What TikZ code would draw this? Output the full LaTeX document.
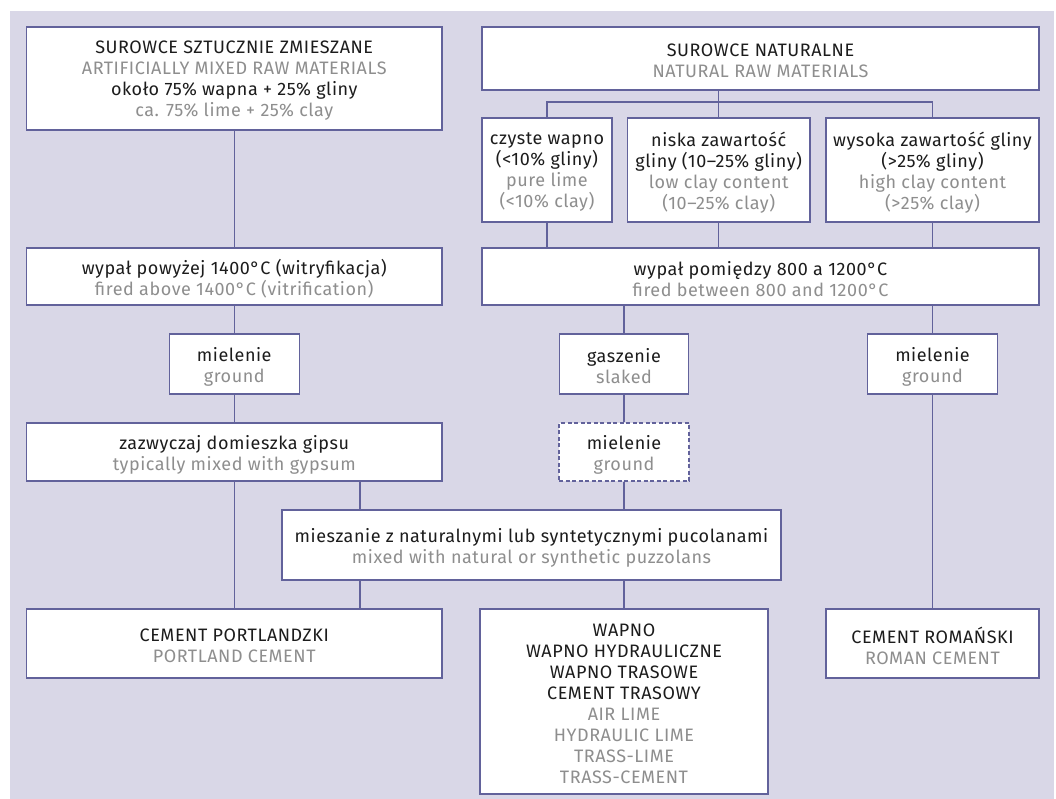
\documentclass[tikz,border=0pt]{standalone}
\usepackage{fontspec}
\setmainfont{Fira Sans}[LetterSpace=3]
\definecolor{bg}{HTML}{D9D7E7}
\definecolor{edge}{HTML}{62629B}
\definecolor{ink}{HTML}{1C1C1C}
\definecolor{pale}{HTML}{8E8E8E}
\newcommand\boxfont{\fontsize{18}{21}\selectfont}
\newcommand\en[1]{\textcolor{pale}{#1}}
% box: style, name, cx, cy, width, height, text
\newcommand\bx[7][box]{%
  \node[#1, minimum width=#5, minimum height=#6] (#2) at (#3,#4) {};
  \node[txt] (#2t) at ([yshift=-2.5pt]#2.center) {#7};}
\begin{document}
\begin{tikzpicture}[x=1pt,y=-1pt,
  box/.style={draw=edge, line width=1.4pt, fill=white, inner sep=0pt},
  dbox/.style={box, dash pattern=on 4pt off 2.5pt},
  txt/.style={inner sep=0pt, align=center, font=\boxfont, text=ink},
  link/.style={draw=edge, line width=1.4pt}]
\useasboundingbox (0,0) rectangle (1056,799);
\fill[bg] (10,11) rectangle (1054,799);

% columns
\coordinate (c360) at (360,0);
\coordinate (br) at (0,102);

% left column
\bx{s1}{234.25}{78.5}{415.5}{103}
  {SUROWCE SZTUCZNIE ZMIESZANE\\\en{ARTIFICIALLY MIXED RAW MATERIALS}\\około 75\% wapna + 25\% gliny\\\en{ca. 75\% lime + 25\% clay}}
\bx{f1}{234.25}{276.5}{415.5}{57}
  {wypał powyżej 1400°C (witryfikacja)\\\en{fired above 1400°C (vitrification)}}
\bx{m1}{234.25}{364}{130}{60}
  {mielenie\\\en{ground}}
\bx{z}{234.25}{452}{415.5}{58}
  {zazwyczaj domieszka gipsu\\\en{typically mixed with gypsum}}
\bx{pc}{234.25}{643.5}{415.5}{69}
  {CEMENT PORTLANDZKI\\\en{PORTLAND CEMENT}}

% right column
\bx{s2}{760.5}{58.5}{557}{63}
  {SUROWCE NATURALNE\\\en{NATURAL RAW MATERIALS}}
\bx{a}{547}{170}{130}{104}
  {czyste wapno\\(<10\% gliny)\\\en{pure lime}\\\en{(<10\% clay)}}
\bx{b}{718.75}{170}{182.5}{104}
  {niska zawartość\\gliny (10–25\% gliny)\\\en{low clay content}\\\en{(10–25\% clay)}}
\bx{c}{932.5}{170}{213}{104}
  {wysoka zawartość gliny\\(>25\% gliny)\\\en{high clay content}\\\en{(>25\% clay)}}
\bx{f2}{760.5}{276.5}{557}{57}
  {wypał pomiędzy 800 a 1200°C\\\en{fired between 800 and 1200°C}}
\bx{gs}{624}{364}{129}{60}
  {gaszenie\\\en{slaked}}
\bx{m3}{932.5}{364}{130}{60}
  {mielenie\\\en{ground}}
\bx[dbox]{d}{624}{452}{130}{58}
  {mielenie\\\en{ground}}
\bx{mx}{531.5}{545}{499}{70}
  {mieszanie z naturalnymi lub syntetycznymi pucolanami\\\en{mixed with natural or synthetic puzzolans}}
\bx{wp}{624}{701.5}{288}{185}
  {WAPNO\\WAPNO HYDRAULICZNE\\WAPNO TRASOWE\\CEMENT TRASOWY\\\en{AIR LIME}\\\en{HYDRAULIC LIME}\\\en{TRASS-LIME}\\\en{TRASS-CEMENT}}
\bx{rc}{932.5}{643.5}{213}{69}
  {CEMENT ROMAŃSKI\\\en{ROMAN CEMENT}}

% connectors left
\draw[link] (s1.south) -- (f1.north);
\draw[link] (f1.south) -- (m1.north);
\draw[link] (m1.south) -- (z.north);
\draw[link] (z.south) -- (pc.north);
\draw[link] (z.south -| c360) -- (mx.north -| c360);
\draw[link] (mx.south -| c360) -- (pc.north -| c360);

% connectors right
\draw[link] (s2.south -| b.north) -- (b.north);
\draw[link] (a.north) -- (a.north |- br) -- (c.north |- br) -- (c.north);
\draw[link] (a.south) -- (f2.north -| a.south);
\draw[link] (b.south) -- (f2.north -| b.south);
\draw[link] (c.south) -- (f2.north -| c.south);
\draw[link] (f2.south -| gs.north) -- (gs.north);
\draw[link] (f2.south -| m3.north) -- (m3.north);
\draw[link] (gs.south) -- (d.north);
\draw[link] (d.south) -- (mx.north -| d.south);
\draw[link] (mx.south -| wp.north) -- (wp.north);
\draw[link] (m3.south) -- (rc.north);
\end{tikzpicture}
\end{document}
